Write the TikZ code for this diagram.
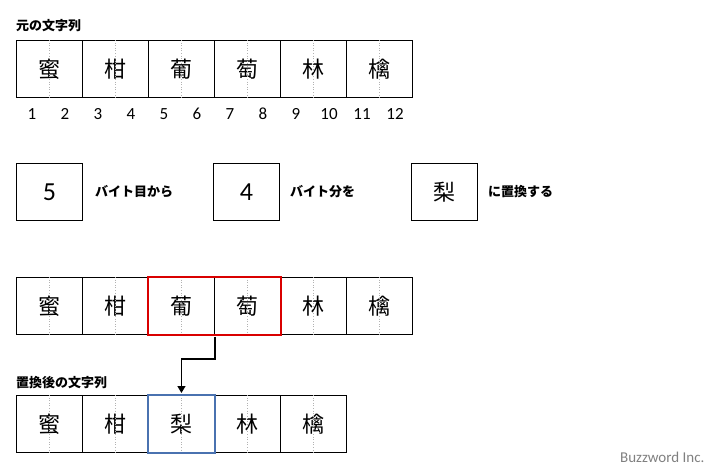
\documentclass[tikz,border=0pt]{standalone}
\usepackage{fontspec}
\setmainfont{Noto Sans CJK JP}
\newfontfamily\lbl{Carlito}
\usetikzlibrary{arrows.meta}
\definecolor{pickblue}{RGB}{74,114,176}
\tikzset{
  charbox/.style={draw, line width=0.9pt, minimum width=66pt, minimum height=57pt, inner sep=0pt, font=\fontsize{22}{22}\selectfont, anchor=north west},
  midline/.style={gray!60, dotted, line width=0.6pt},
  caption/.style={font=\fontsize{13}{13}\selectfont\bfseries, anchor=west, inner sep=0pt},
  bytenum/.style={font=\lbl\fontsize{17}{17}\selectfont, inner sep=0pt}
}
\begin{document}
\begin{tikzpicture}[x=1pt, y=-1pt]
    \useasboundingbox (0,0) rectangle (728,474);

    % Paso 1: 元の文字列
    \node[caption] (title1) at (16,26) {元の文字列};
    \foreach \ch [count=\i] in {蜜,柑,葡,萄,林,檎} {
        \node[charbox] (a\i) at ({16+66*(\i-1)},40) {\ch};
        \draw[midline] (a\i.north) -- (a\i.south);
    }

    % Paso 2: バイト番号
    \foreach \n in {1,...,12}
        \node[bytenum] (n\n) at ({32+33*(\n-1)},114) {\n};

    % Paso 3: 置換の条件
    \node[charbox, font=\lbl\fontsize{26}{26}\selectfont] (pos) at (16,163) {5};
    \node[caption] (t1) at (95,192) {バイト目から};
    \node[charbox, font=\lbl\fontsize{26}{26}\selectfont] (len) at (213,163) {4};
    \node[caption] (t2) at (290,192) {バイト分を};
    \node[charbox] (rep) at (411,163) {梨};
    \node[caption] (t3) at (488,192) {に置換する};

    % Paso 4: 置換する範囲
    \foreach \ch [count=\i] in {蜜,柑,葡,萄,林,檎} {
        \node[charbox] (b\i) at ({16+66*(\i-1)},277) {\ch};
        \draw[midline] (b\i.north) -- (b\i.south);
    }
    \draw[red!85!black, line width=1.6pt] (b3.north west) rectangle (b4.south east);

    % Paso 5: 置換後の文字列
    \node[caption] (title2) at (16,383) {置換後の文字列};
    \foreach \ch [count=\i] in {蜜,柑,梨,林,檎} {
        \node[charbox] (c\i) at ({16+66*(\i-1)},395) {\ch};
        \draw[midline] (c\i.north) -- (c\i.south);
    }
    \draw[pickblue, line width=1.6pt] (c3.north west) rectangle (c3.south east);

    % Paso 6: 矢印
    \draw[line width=1.4pt, -{Triangle[length=7pt,width=8pt]}]
        ([yshift=-2pt]b3.south east) -- ++(0,22) -| ([yshift=2pt]c3.north);

    \node[font=\lbl\fontsize{15}{15}\selectfont, text=gray, anchor=east] (mark) at (708,457) {Buzzword Inc.};
\end{tikzpicture}
\end{document}
